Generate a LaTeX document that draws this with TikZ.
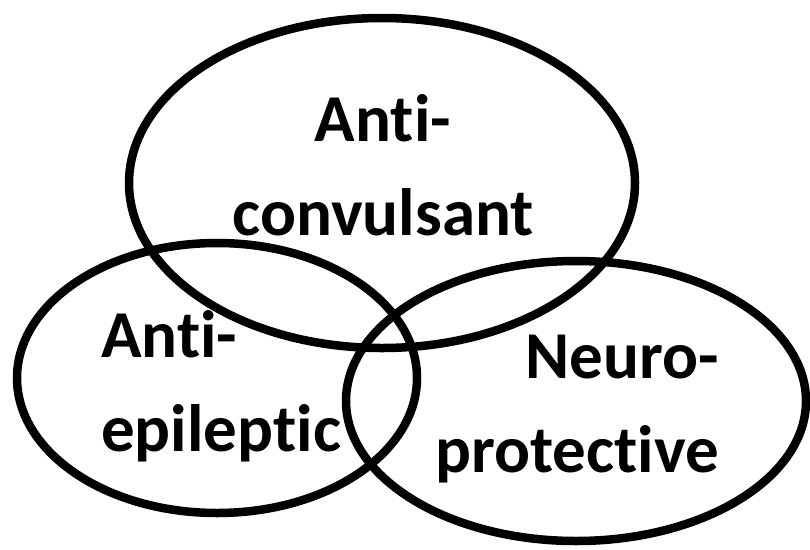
\documentclass[tikz,border=0pt]{standalone}
\usepackage{fontspec}
\setmainfont{Carlito}[Ligatures={NoCommon}]
\begin{document}
\begin{tikzpicture}[x=1pt,y=-1pt,
  ring/.style={draw=black, line width=8.5pt},
  lbl/.style={font=\bfseries\fontsize{67}{94}\selectfont, inner sep=0pt}]
\useasboundingbox[fill=white] (0,0) rectangle (810,549);
\draw[ring] (382,183) ellipse [x radius=253, y radius=165];
\draw[ring] (217,378) ellipse [x radius=200, y radius=135];
\draw[ring] (576,401) ellipse [x radius=230, y radius=140];
\node[lbl, align=center, anchor=base] (ac) at (383,235) {Anti-\\convulsant};
\node[lbl, align=left, anchor=base west] (ae) at (101,451) {Anti-\\epileptic};
\node[lbl, align=right, anchor=base east] (np) at (719,472) {Neuro-\\protective};
\end{tikzpicture}
\end{document}
